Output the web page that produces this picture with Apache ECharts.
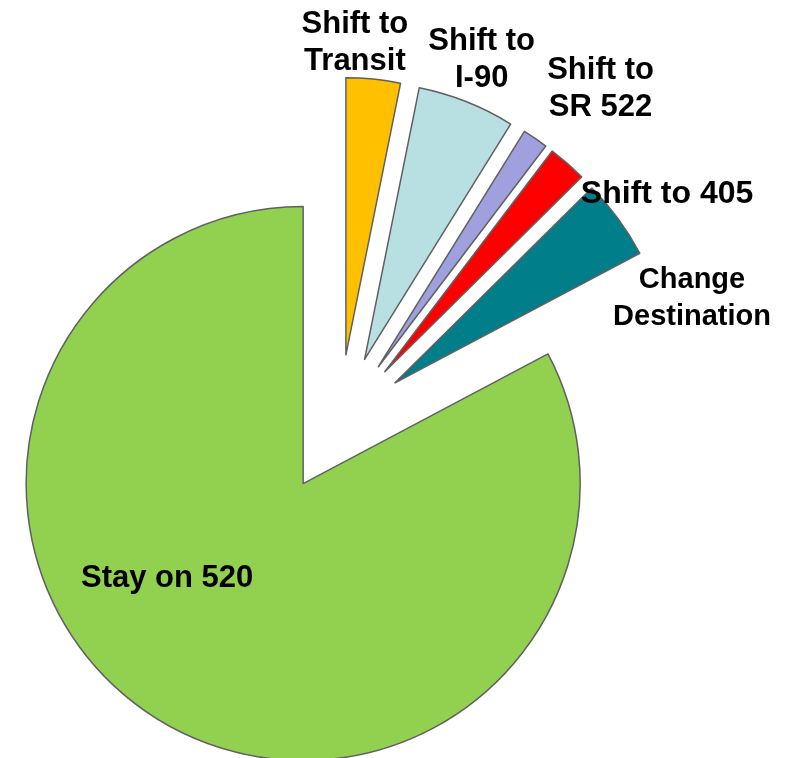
<!DOCTYPE html>
<html>
<head>
<meta charset="utf-8">
<script src="https://cdn.jsdelivr.net/npm/echarts@6/dist/echarts.min.js"></script>
<style>
html,body{margin:0;padding:0;background:#fff;}
#chart{width:789px;height:758px;}
</style>
</head>
<body>
<div id="chart"></div>
<script>
// Data (share of trips, %)
var categories = ['Shift to\nTransit', 'Shift to\nI-90', 'Shift to\nSR 522', 'Shift to 405', 'Change\nDestination', 'Stay on 520'];
var values = [3.16, 5.68, 1.49, 2.25, 4.67, 82.75];
var colors = ['#FFC000', '#B8DFE2', '#A0A0DF', '#FF0000', '#007E8A', '#92D050'];
// label nudges from the default inside label spot
var labelNudge = [[-5, -171], [65, -168], [142, -161], [189, -71], [183, -1], [-63, -26]];
var labelSize = [31, 31, 31, 32, 29, 31];

var chart = echarts.init(document.getElementById('chart'), null, {renderer: 'canvas'});
var data = categories.map(function (c, i) {
  return {
    name: c,
    value: values[i],
    selected: true,
    itemStyle: {color: colors[i]},
    label: {fontSize: labelSize[i]}
  };
});
chart.setOption({
  animation: false,
  backgroundColor: '#ffffff',
  series: [{
    type: 'pie',
    center: [339, 424],
    radius: [0, 277],
    startAngle: 90,
    clockwise: true,
    selectedMode: 'multiple',
    selectedOffset: 69.5,
    avoidLabelOverlap: false,
    itemStyle: {borderColor: '#606060', borderWidth: 1.5},
    select: {itemStyle: {borderColor: '#606060', borderWidth: 1.5}, label: {color: '#000'}},
    emphasis: {disabled: true},
    label: {
      show: true,
      position: 'inside',
      formatter: '{b}',
      color: '#000',
      fontFamily: 'Liberation Sans, Arial, sans-serif',
      fontWeight: 'bold',
      fontSize: 31,
      lineHeight: 37,
      align: 'center'
    },
    labelLine: {show: false},
    labelLayout: function (p) {
      var n = labelNudge[p.dataIndex];
      return {dx: n[0], dy: n[1]};
    },
    data: data
  }]
});
</script>
</body>
</html>
